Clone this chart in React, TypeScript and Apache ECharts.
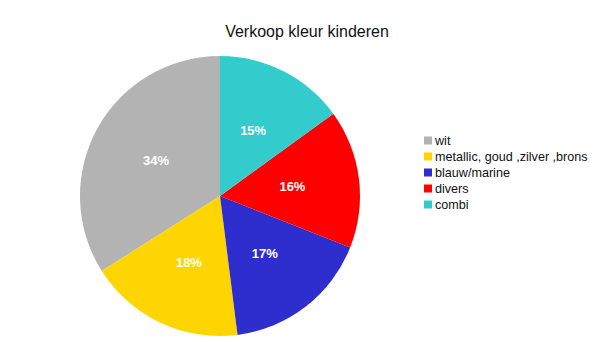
import React, { useEffect, useRef } from "react";
import * as echarts from "echarts";

const categories = ["wit", "metallic, goud ,zilver ,brons", "blauw/marine", "divers", "combi"];
const values = [34, 18, 17, 16, 15];
const colors = ["#b3b3b3", "#ffd500", "#2e2ecf", "#ff0000", "#33cccc"];

export default function App() {
  const ref = useRef<HTMLDivElement>(null);
  useEffect(() => {
    const chart = echarts.init(ref.current!, undefined, { renderer: "svg" });
    chart.setOption({
      animation: false,
      backgroundColor: "#ffffff",
      title: {
        text: "Verkoop kleur kinderen",
        left: 302,
        textAlign: "center",
        top: 18,
        textStyle: { fontFamily: "Liberation Sans, Arial, sans-serif", fontSize: 16, fontWeight: "normal", color: "#111" },
      },
      legend: {
        orient: "vertical",
        left: 419,
        top: 129,
        itemWidth: 8,
        itemHeight: 8,
        itemGap: 3,
        icon: "rect",
        data: categories,
        textStyle: { fontFamily: "Liberation Sans, Arial, sans-serif", fontSize: 12.6, color: "#111", padding: [0, 0, 0, -2] },
      },
      series: [
        {
          type: "pie",
          center: [220, 196],
          radius: [0, 140],
          startAngle: 90,
          clockwise: false,
          label: {
            show: true,
            position: "inside",
            formatter: "{d}%",
            color: "#fff",
            fontWeight: "bold",
            fontSize: 13,
            fontFamily: "Liberation Sans, Arial, sans-serif",
          },
          labelLine: { show: false },
          itemStyle: { borderWidth: 0 },
          emphasis: { disabled: true },
          data: categories.map((c, i) => ({ name: c, value: values[i], itemStyle: { color: colors[i] } })),
        },
      ],
    });
    return () => chart.dispose();
  }, []);
  return <div ref={ref} style={{ position: "fixed", left: 0, top: 0, width: 604, height: 343 }} />;
}
